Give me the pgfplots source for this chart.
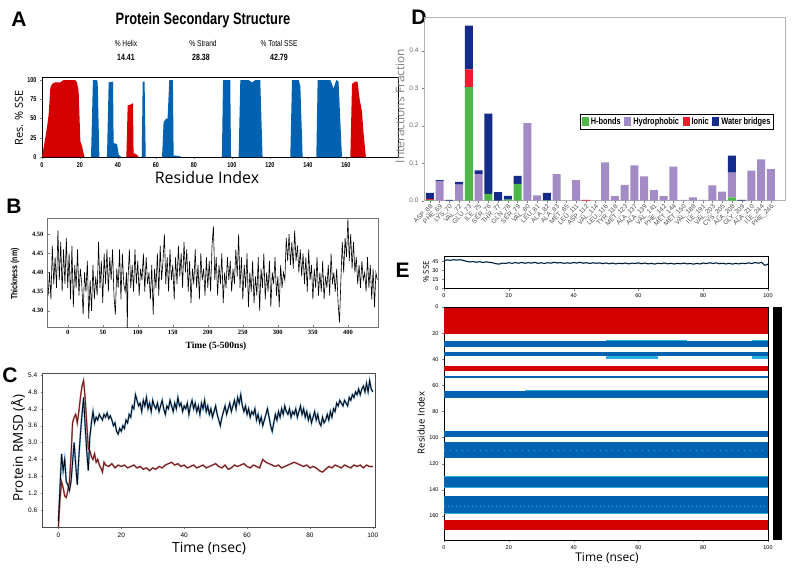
\documentclass[border=0pt]{standalone}
\usepackage{pgfplots}
\usepackage{pgfplotstable}
\pgfplotsset{compat=1.18}
\usepackage{fontspec}
\setmainfont{Open Sans}
\newfontfamily\arialf{Liberation Sans}
\newfontfamily\narrowf[FakeStretch=0.78]{Liberation Sans}
\newfontfamily\timesf{Liberation Serif}
\definecolor{redA}{RGB}{212,0,0}
\definecolor{blueA}{RGB}{0,98,176}
\definecolor{cgreen}{RGB}{77,184,72}
\definecolor{cpurple}{RGB}{163,139,198}
\definecolor{cred}{RGB}{238,28,46}
\definecolor{cnavy}{RGB}{21,43,140}
\definecolor{ecyan}{RGB}{42,176,224}
\definecolor{halo}{RGB}{110,165,215}
\definecolor{maroon}{RGB}{118,22,22}
\pgfplotstableread{
i H P I W
0 0.002 0 0.003 0.016
1 0 0.053 0 0.002
2 0 0 0 0.002
3 0 0.043 0 0.007
4 0.303 0 0.047 0.117
5 0 0.071 0 0.010
6 0.018 0 0 0.214
7 0 0 0 0.023
8 0.003 0 0 0.010
9 0.045 0 0 0.021
10 0 0.207 0 0
11 0 0.014 0 0
12 0.001 0 0 0.020
13 0 0.071 0 0
14 0 0 0 0
15 0 0.055 0 0
16 0 0 0.002 0
17 0 0 0 0
18 0 0.102 0 0
19 0 0.012 0 0
20 0 0.042 0 0
21 0 0.094 0 0
22 0 0.065 0 0
23 0 0.028 0 0
24 0 0.012 0 0
25 0 0.091 0 0
26 0 0.002 0 0
27 0 0.009 0 0
28 0 0.002 0 0
29 0 0.041 0 0
30 0 0.024 0 0
31 0.009 0.066 0 0.045
32 0 0 0 0.002
33 0 0.080 0 0
34 0 0.110 0 0
35 0 0.084 0 0
}\tabD
\pgfplotsset{every axis/.append style={scale only axis, /pgf/number format/assume math mode=true}}
\begin{document}
\begin{tikzpicture}
\path[use as bounding box] (0pt,0pt) rectangle (794pt,-567pt);
% ---------------- Panel A
\node[font=\arialf\bfseries\fontsize{21}{22}\selectfont] at (19pt,-19pt) {A};
\node[font=\narrowf\bfseries\fontsize{16.5}{17}\selectfont] at (203pt,-20pt) {Protein Secondary Structure};
\node[font=\narrowf\fontsize{8.5}{9}\selectfont] at (126pt,-43pt) {\% Helix};
\node[font=\narrowf\fontsize{8.5}{9}\selectfont] at (203pt,-43pt) {\% Strand};
\node[font=\narrowf\fontsize{8.5}{9}\selectfont] at (279pt,-43pt) {\% Total SSE};
\node[font=\narrowf\bfseries\fontsize{9}{9}\selectfont] at (126pt,-57pt) {14.41};
\node[font=\narrowf\bfseries\fontsize{9}{9}\selectfont] at (201pt,-57pt) {28.38};
\node[font=\narrowf\bfseries\fontsize{9}{9}\selectfont] at (279pt,-57pt) {42.79};
\node[font=\fontsize{16}{17}\selectfont] at (207pt,-177pt) {Residue Index};
\node[font=\fontsize{11}{12}\selectfont, rotate=90] at (19pt,-118pt) {Res. \% SSE};
\begin{axis}[at={(42pt,-157pt)}, anchor=south west, width=356pt, height=80pt,
  xmin=0, xmax=187.4, ymin=0, ymax=104,
  xtick={0,20,...,160}, ytick={0,25,50,75,100},
  tick label style={font=\narrowf\bfseries\fontsize{7}{8}\selectfont},
  tick align=outside, tick pos=left, major tick length=2pt,
  axis line style={line width=0.8pt}]
\addplot[fill=redA, draw=none] coordinates {(0,0) (1.75,25) (2.6,38) (3.5,55) (4.4,90) (5.3,95) (7,97) (9.6,97) (11.4,100) (17.5,100) (18.4,97) (19.3,85) (20.2,20) (21,15) (22.3,0)} --cycle;
\addplot[fill=blueA, draw=none] coordinates {(25.8,0) (26.8,100) (28.9,100) (29.3,97) (30.2,0)} --cycle;
\addplot[fill=blueA, draw=none] coordinates {(34.2,0) (35.1,97) (37.4,98) (37.7,18) (39.5,17) (40.4,3) (41.6,0)} --cycle;
\addplot[fill=redA, draw=none] coordinates {(44.4,0) (45.1,67) (46.5,68) (47.9,70) (48.2,5) (50,3) (50.9,0)} --cycle;
\addplot[fill=blueA, draw=none] coordinates {(52.5,0) (53,98) (54,98) (54.6,0)} --cycle;
\addplot[fill=blueA, draw=none] coordinates {(63.2,0) (64,45) (65.3,50) (66.1,50) (67,100) (68.9,100) (69.3,0) (69.6,2) (72.8,1) (73,0)} --cycle;
\addplot[fill=blueA, draw=none] coordinates {(94.7,0) (95.3,100) (99.1,100) (99.5,0)} --cycle;
\addplot[fill=blueA, draw=none] coordinates {(103.5,0) (104.4,100) (108.8,100) (110.5,97) (112.3,100) (114.9,100) (116.1,0)} --cycle;
\addplot[fill=blueA, draw=none] coordinates {(130.7,0) (131.6,100) (135.1,100) (136,92) (137.2,0)} --cycle;
\addplot[fill=blueA, draw=none] coordinates {(144.4,0) (145.1,100) (151.8,100) (153.5,89) (154.9,100) (156.1,98) (157.9,0)} --cycle;
\addplot[fill=redA, draw=none] coordinates {(162.3,0) (163.2,95) (164.9,98) (166.1,98) (167.2,75) (168.4,60) (169.3,30) (170.5,0)} --cycle;
\end{axis}
% ---------------- Panel B
\node[font=\arialf\bfseries\fontsize{21}{22}\selectfont] at (14pt,-206pt) {B};
\node[font=\narrowf\bfseries\fontsize{9}{10}\selectfont, rotate=90] at (15pt,-274pt) {Thickness (nm)};
\node[font=\timesf\bfseries\fontsize{9.5}{10}\selectfont] at (216pt,-346pt) {Time (5-500ns)};
\begin{axis}[at={(47pt,-327pt)}, anchor=south west, width=331pt, height=109pt,
  xmin=-29.6, xmax=443, ymin=4.258, ymax=4.542,
  xtick={0,50,...,400}, ytick={4.30,4.35,...,4.50},
  yticklabel style={/pgf/number format/.cd, fixed, fixed zerofill, precision=2},
  tick label style={font=\timesf\bfseries\fontsize{6.5}{7}\selectfont},
  tick pos=left, major tick length=2.5pt,
  axis line style={draw=black!55, line width=0.6pt}]
\addplot[black, line width=0.6pt] coordinates {
(-28,4.34) (-26,4.40) (-24,4.33) (-22,4.47) (-20,4.37) (-18,4.44) (-16,4.36) (-14,4.51) (-12,4.38) (-10,4.48)
(-8,4.35) (-6,4.46) (-4,4.37) (-2,4.49) (0,4.36) (2,4.45) (4,4.33) (6,4.47) (8,4.31) (10,4.42)
(12,4.36) (14,4.46) (16,4.34) (18,4.41) (20,4.37) (22,4.29) (24,4.40) (26,4.35) (28,4.43) (30,4.28)
(32,4.38) (34,4.30) (36,4.42) (38,4.33) (40,4.39) (42,4.34) (44,4.48) (46,4.36) (48,4.43) (50,4.32)
(52,4.45) (54,4.37) (56,4.46) (58,4.35) (60,4.44) (62,4.38) (64,4.46) (66,4.34) (68,4.29) (70,4.41)
(72,4.36) (74,4.46) (76,4.33) (78,4.45) (80,4.37) (82,4.35) (84,4.40) (85,4.25) (86,4.38) (88,4.46)
(90,4.36) (92,4.42) (94,4.35) (96,4.46) (98,4.37) (100,4.43) (102,4.34) (104,4.41) (106,4.38) (108,4.45)
(110,4.35) (112,4.44) (114,4.37) (116,4.40) (118,4.33) (120,4.42) (122,4.29) (124,4.41) (126,4.36) (128,4.45)
(130,4.34) (132,4.47) (134,4.38) (136,4.43) (138,4.50) (140,4.37) (142,4.44) (144,4.35) (146,4.46) (148,4.38)
(150,4.42) (152,4.33) (154,4.44) (156,4.37) (158,4.47) (160,4.39) (162,4.45) (164,4.36) (166,4.48) (168,4.40)
(170,4.46) (172,4.35) (174,4.43) (176,4.32) (178,4.41) (180,4.37) (182,4.46) (184,4.36) (186,4.42) (188,4.33)
(190,4.45) (192,4.38) (194,4.41) (196,4.34) (198,4.44) (200,4.36) (202,4.43) (204,4.35) (206,4.47) (208,4.52)
(210,4.38) (212,4.44) (214,4.34) (216,4.42) (218,4.37) (220,4.45) (222,4.32) (224,4.40) (226,4.36) (228,4.44)
(230,4.38) (232,4.43) (234,4.35) (236,4.41) (238,4.37) (240,4.46) (242,4.39) (244,4.50) (246,4.36) (248,4.44)
(250,4.33) (252,4.42) (254,4.36) (256,4.45) (258,4.31) (260,4.40) (262,4.35) (264,4.43) (266,4.32) (268,4.39)
(270,4.34) (272,4.44) (274,4.30) (276,4.41) (278,4.36) (280,4.45) (282,4.33) (284,4.40) (286,4.35) (288,4.43)
(290,4.31) (292,4.40) (294,4.37) (296,4.44) (298,4.34) (300,4.39) (302,4.31) (304,4.42) (306,4.36) (308,4.40)
(310,4.38) (312,4.49) (314,4.43) (316,4.50) (318,4.42) (320,4.48) (322,4.41) (324,4.51) (326,4.43) (328,4.47)
(330,4.40) (332,4.46) (334,4.39) (336,4.45) (338,4.37) (340,4.44) (342,4.35) (344,4.46) (346,4.38) (348,4.42)
(350,4.33) (352,4.41) (354,4.36) (356,4.44) (358,4.34) (360,4.40) (362,4.35) (364,4.43) (366,4.33) (368,4.39)
(370,4.36) (372,4.42) (374,4.34) (376,4.45) (378,4.37) (380,4.40) (382,4.35) (384,4.41) (386,4.32) (388,4.27)
(390,4.38) (392,4.48) (394,4.40) (396,4.49) (398,4.44) (400,4.54) (402,4.43) (404,4.50) (406,4.41) (408,4.48)
(410,4.40) (412,4.44) (414,4.37) (416,4.42) (418,4.36) (420,4.43) (422,4.38) (424,4.40) (426,4.35) (428,4.44)
(430,4.36) (432,4.42) (434,4.33) (436,4.41) (438,4.31) (440,4.40) (442,4.38)};
\end{axis}
% ---------------- Panel C
\node[font=\arialf\bfseries\fontsize{21}{22}\selectfont] at (10pt,-375pt) {C};
\node[font=\fontsize{13.5}{14}\selectfont, rotate=90] at (18pt,-448pt) {Protein RMSD (\AA)};
\node[font=\fontsize{14}{15}\selectfont] at (209pt,-548pt) {Time (nsec)};
\begin{axis}[at={(42.7pt,-527pt)}, anchor=south west, width=332.3pt, height=154pt,
  xmin=-5, xmax=100.7, ymin=0, ymax=5.47,
  xtick={0,20,...,100}, ytick={0.6,1.2,...,5.41},
  yticklabel style={/pgf/number format/.cd, fixed, fixed zerofill, precision=1},
  tick label style={font=\arialf\fontsize{6.5}{7}\selectfont},
  tick pos=left, tick align=outside, major tick length=2pt,
  axis line style={draw=black!70, line width=0.6pt}]
\pgfplotstableread{
x y
0 0.2
0.5 1.4
1 2.6
1.5 2.0
2 2.4
2.5 1.6
3 1.5
3.5 1.3
4 1.6
4.5 2.3
5 3.0
5.5 2.2
6 1.5
6.5 2.5
7 3.3
7.5 4.0
8 4.6
8.5 3.6
9 2.7
9.5 2.0
10 3.2
10.5 3.7
11 4.1
11.5 3.7
12 3.9
12.5 3.8
13 4.0
13.5 3.9
14 3.8
14.5 4.0
15 3.9
15.5 4.05
16 3.85
16.5 3.95
17 3.8
17.5 3.6
18 3.7
18.5 3.4
19 3.3
19.5 3.5
20 3.4
20.5 3.6
21 3.5
21.5 3.8
22 3.7
22.5 4.0
23 3.9
23.5 4.3
24 4.2
24.5 4.7
25 4.5
25.5 4.3
26 4.4
26.5 4.1
27 4.5
27.5 4.3
28 4.6
28.5 4.2
29 4.4
29.5 4.1
30 4.5
30.5 4.3
31 4.2
31.5 4.4
32 4.1
32.5 4.3
33 4.5
33.5 4.2
34 4.0
34.5 4.3
35 4.2
35.5 4.5
36 4.3
36.5 4.1
37 4.4
37.5 4.2
38 4.6
38.5 4.3
39 4.4
39.5 4.1
40 4.3
40.5 4.2
41 4.4
41.5 4.0
42 4.3
42.5 4.5
43 4.2
43.5 4.4
44 4.1
44.5 4.3
45 4.0
45.5 4.4
46 4.2
46.5 4.5
47 4.1
47.5 4.3
48 4.0
48.5 4.2
49 3.9
49.5 4.1
50 4.3
50.5 4.0
51 3.8
51.5 3.6
52 3.9
52.5 4.1
53 4.3
53.5 4.0
54 4.2
54.5 4.4
55 4.1
55.5 4.3
56 4.5
56.5 4.2
57 4.6
57.5 4.4
58 4.7
58.5 4.3
59 4.1
59.5 4.3
60 4.0
60.5 4.2
61 3.9
61.5 4.1
62 4.0
62.5 4.2
63 3.8
63.5 4.0
64 3.7
64.5 3.9
65 3.6
65.5 3.8
66 4.0
66.5 4.2
67 3.9
67.5 3.6
68 3.4
68.5 3.7
69 4.0
69.5 3.8
70 4.1
70.5 3.9
71 4.2
71.5 4.0
72 4.3
72.5 4.1
73 4.0
73.5 4.2
74 3.9
74.5 4.1
75 4.0
75.5 4.2
76 3.9
76.5 4.1
77 4.3
77.5 4.0
78 4.2
78.5 3.9
79 4.1
79.5 3.8
80 4.0
80.5 3.7
81 3.9
81.5 4.1
82 3.8
82.5 4.0
83 3.7
83.5 3.6
84 3.9
84.5 3.7
85 3.8
85.5 4.0
86 3.8
86.5 4.1
87 3.9
87.5 4.2
88 4.1
88.5 4.4
89 4.3
89.5 4.5
90 4.4
90.5 4.3
91 4.5
91.5 4.4
92 4.3
92.5 4.6
93 4.5
93.5 4.7
94 4.6
94.5 4.8
95 4.7
95.5 4.9
96 4.7
96.5 4.9
97 5.0
97.5 4.8
98 5.1
98.5 4.8
99 5.2
99.5 4.9
100 4.8
}\tabCblack
\pgfplotstableread{
x y
0 0
0.5 1.0
1 1.6
1.5 1.4
2 1.1
2.5 1.05
3 1.3
3.5 1.6
4 2.5
4.5 3.7
5 3.9
5.5 4.0
6 3.7
6.5 4.1
7 4.6
7.5 5.0
8 5.2
8.5 4.6
9 3.7
9.5 2.8
10 2.7
10.5 2.5
11 2.4
11.5 2.6
12 2.3
12.5 2.4
13 2.2
13.5 2.1
14 1.95
14.5 2.3
15 2.2
16 2.15
17 2.25
18 2.1
19 2.2
20 2.15
21 2.2
22 2.1
23 2.15
24 2.2
25 2.1
26 2.15
27 2.05
28 2.1
29 2.0
30 2.1
31 2.05
32 2.15
33 2.1
34 2.2
35 2.25
36 2.3
37 2.2
38 2.25
39 2.15
40 2.2
41 2.1
42 2.15
43 2.2
44 2.1
45 2.15
46 2.2
47 2.1
48 2.15
49 2.2
50 2.25
51 2.15
52 2.1
53 2.2
54 2.05
55 2.1
56 2.2
57 2.15
58 2.2
59 2.25
60 2.15
61 2.1
62 2.2
63 2.15
64 2.1
65 2.4
66 2.3
67 2.25
68 2.2
69 2.15
70 2.2
71 2.1
72 2.15
73 2.2
74 2.25
75 2.3
76 2.25
77 2.2
78 2.15
79 2.2
80 2.1
81 2.15
82 2.1
83 2.0
84 1.95
85 2.05
86 2.15
87 2.1
88 2.2
89 2.15
90 2.1
91 2.2
92 2.15
93 2.1
94 2.2
95 2.15
96 2.2
97 2.1
98 2.2
99 2.15
100 2.15
}\tabCred
\addplot[halo, line width=1.8pt] table[x=x,y=y]{\tabCblack};
\addplot[maroon!60, line width=1.6pt] table[x=x,y=y]{\tabCred};
\addplot[maroon, line width=0.8pt] table[x=x,y=y]{\tabCred};
\addplot[black, line width=0.8pt] table[x=x,y=y]{\tabCblack};
\end{axis}
% ---------------- Panel D
\node[font=\arialf\bfseries\fontsize{21}{22}\selectfont] at (419pt,-17pt) {D};
\node[font=\fontsize{12}{13}\selectfont, rotate=90, text=black!50] at (400pt,-106pt) {Interactions Fraction};
\begin{axis}[at={(424pt,-200.7pt)}, anchor=south west, width=361pt, height=183.7pt,
  ybar stacked, bar width=8pt,
  xmin=-0.6, xmax=36.45, ymin=0, ymax=0.49,
  xtick={0,...,35}, ytick={0,0.1,...,0.41},
  xticklabels={ASP\_68,PHE\_69,LYS\_70,VAL\_72,GLU\_73,ILE\_75,SER\_76,THR\_77,GLN\_78,SER\_79,VAL\_80,LEU\_81,ALA\_82,ALA\_83,MET\_85,LEU\_111,ASP\_112,VAL\_114,LEU\_116,TYR\_118,MET\_123,ALA\_137,ALA\_139,VAL\_141,PHE\_142,MET\_144,MET\_150,VAL\_188,ILE\_191,VAL\_203,CYS\_205,ALA\_208,GLY\_209,ALA\_210,ILE\_244,PHE\_246},
  xticklabel style={rotate=45, anchor=north east, inner sep=0.5pt, font=\arialf\fontsize{6.5}{6.5}\selectfont, text=black!70},
  yticklabel style={/pgf/number format/.cd, fixed, fixed zerofill, precision=1},
  tick label style={font=\arialf\fontsize{6.5}{7}\selectfont, text=black!60},
  tick pos=left, tick align=outside, major tick length=2pt,
  axis line style={draw=black!30, line width=0.6pt},
  legend style={at={(0.432,0.385)}, anchor=south west, legend columns=4, draw=black, line width=1.3pt,
    font=\narrowf\bfseries\fontsize{9.5}{10}\selectfont, inner sep=1.2pt,
    /tikz/every even column/.append style={column sep=1.5pt}},
  legend image code/.code={\fill[#1] (0pt,-4pt) rectangle (7pt,5pt);}]
\addplot[fill=cgreen, draw=none] table[x=i,y=H]{\tabD};
\addplot[fill=cpurple, draw=none] table[x=i,y=P]{\tabD};
\addplot[fill=cred, draw=none] table[x=i,y=I]{\tabD};
\addplot[fill=cnavy, draw=none] table[x=i,y=W]{\tabD};
\legend{H-bonds,Hydrophobic,Ionic,Water bridges}
\end{axis}
% ---------------- Panel E
\node[font=\arialf\bfseries\fontsize{21}{22}\selectfont] at (402.5pt,-270pt) {E};
\node[font=\fontsize{8}{9}\selectfont, rotate=90] at (426pt,-272pt) {\% SSE};
\node[font=\fontsize{9.5}{10}\selectfont, rotate=90] at (421pt,-423pt) {Residue Index};
\node[font=\fontsize{12}{13}\selectfont] at (607pt,-558pt) {Time (nsec)};
\begin{axis}[at={(444pt,-288.5pt)}, anchor=south west, width=324pt, height=32.5pt,
  xmin=0, xmax=100, ymin=0, ymax=54,
  xtick={0,20,...,100}, ytick={0,15,30,45},
  tick label style={font=\arialf\fontsize{5.5}{6}\selectfont},
  tick pos=left, tick align=outside, major tick length=2pt,
  axis line style={line width=0.6pt}]
\pgfplotstableread{
x y
0 46.5
1 47.5
2 46.8
3 47.8
4 47.2
5 47.9
6 46.5
7 45.2
8 44.1
9 44.8
10 43.6
11 44.5
12 43.2
13 44.2
14 43.5
15 42.8
16 41.2
17 40.5
18 42.2
19 41.6
20 42.9
21 41.8
22 43.1
23 42.0
24 43.3
25 41.9
26 43.0
27 42.2
28 43.4
29 41.7
30 42.8
31 41.5
32 43.0
33 42.1
34 43.6
35 42.4
36 43.1
37 41.8
38 42.7
39 41.9
40 43.2
41 42.3
42 43.5
43 42.0
44 42.9
45 41.6
46 42.8
47 41.9
48 42.6
49 41.3
50 42.5
51 41.0
52 42.3
53 40.8
54 42.0
55 41.2
56 42.4
57 40.9
58 42.1
59 41.5
60 42.6
61 41.2
62 42.3
63 40.9
64 41.8
65 40.6
66 42.0
67 41.3
68 42.4
69 41.0
70 41.9
71 40.7
72 41.8
73 41.1
74 42.2
75 40.9
76 41.6
77 40.5
78 41.7
79 40.8
80 42.3
81 41.4
82 42.8
83 41.6
84 42.5
85 41.2
86 42.0
87 40.8
88 41.9
89 40.6
90 41.7
91 40.9
92 42.0
93 41.3
94 42.6
95 41.5
96 43.2
97 42.0
98 43.5
99 38.5
100 40.5
}\tabE
\addplot[halo, line width=1.4pt] table[x=x,y=y]{\tabE};
\addplot[black, line width=0.7pt] table[x=x,y=y]{\tabE};
\end{axis}
\begin{axis}[at={(444pt,-540pt)}, anchor=south west, width=324pt, height=233pt,
  xmin=0, xmax=100, ymin=0, ymax=178.5, y dir=reverse,
  xtick={0,20,...,100}, ytick={0,20,...,160},
  tick label style={font=\arialf\fontsize{5.5}{6}\selectfont},
  tick pos=left, tick align=outside, major tick length=2pt,
  axis line style={line width=0.6pt}]
% cyan fringes
\addplot[fill=ecyan, draw=none] coordinates {(50,25.4) (75,25.4) (75,26.3) (50,26.3)} --cycle;
\addplot[fill=ecyan, draw=none] coordinates {(95,25.4) (100,25.4) (100,26.3) (95,26.3)} --cycle;
\addplot[fill=ecyan, draw=none] coordinates {(50,37.8) (66,37.8) (66,39.6) (50,39.6)} --cycle;
\addplot[fill=ecyan, draw=none] coordinates {(95,37.8) (100,37.8) (100,39.6) (95,39.6)} --cycle;
\addplot[fill=ecyan, draw=none] coordinates {(25,63.6) (100,63.6) (100,64.5) (25,64.5)} --cycle;
\addplot[fill=ecyan, draw=none] coordinates {(0,129.5) (100,129.5) (100,130.3) (0,130.3)} --cycle;
\addplot[fill=ecyan, draw=none] coordinates {(0,138) (100,138) (100,138.7) (0,138.7)} --cycle;
\addplot[fill=ecyan, draw=none] coordinates {(0,157.9) (100,157.9) (100,158.6) (0,158.6)} --cycle;
% bands
\addplot[fill=redA, draw=none] coordinates {(0,1) (100,1) (100,21) (0,21)} --cycle;
\addplot[fill=blueA, draw=none] coordinates {(0,26.3) (100,26.3) (100,30.6) (0,30.6)} --cycle;
\addplot[fill=blueA, draw=none] coordinates {(0,34.2) (100,34.2) (100,37.8) (0,37.8)} --cycle;
\addplot[fill=redA, draw=none] coordinates {(0,45) (100,45) (100,49) (0,49)} --cycle;
\addplot[fill=blueA, draw=none] coordinates {(0,52.6) (100,52.6) (100,54.7) (0,54.7)} --cycle;
\addplot[fill=blueA, draw=none] coordinates {(0,64.5) (100,64.5) (100,69.7) (0,69.7)} --cycle;
\addplot[fill=blueA, draw=none] coordinates {(0,95.3) (100,95.3) (100,99.6) (0,99.6)} --cycle;
\addplot[fill=blueA, draw=none] coordinates {(0,103.4) (100,103.4) (100,115.7) (0,115.7)} --cycle;
\addplot[fill=blueA, draw=none] coordinates {(0,130.3) (100,130.3) (100,138) (0,138)} --cycle;
\addplot[fill=blueA, draw=none] coordinates {(0,145.1) (100,145.1) (100,157.9) (0,157.9)} --cycle;
\addplot[fill=redA, draw=none] coordinates {(0,163) (100,163) (100,171.2) (0,171.2)} --cycle;
\addplot[ecyan, line width=0.8pt, dash pattern=on 1pt off 3pt] coordinates {(0,153) (100,153)};
\addplot[ecyan, line width=0.8pt, dash pattern=on 1pt off 5pt] coordinates {(0,110) (100,110)};
\end{axis}
\fill[black] (772.7pt,-307pt) rectangle (782pt,-540pt);
\end{tikzpicture}
\end{document}
